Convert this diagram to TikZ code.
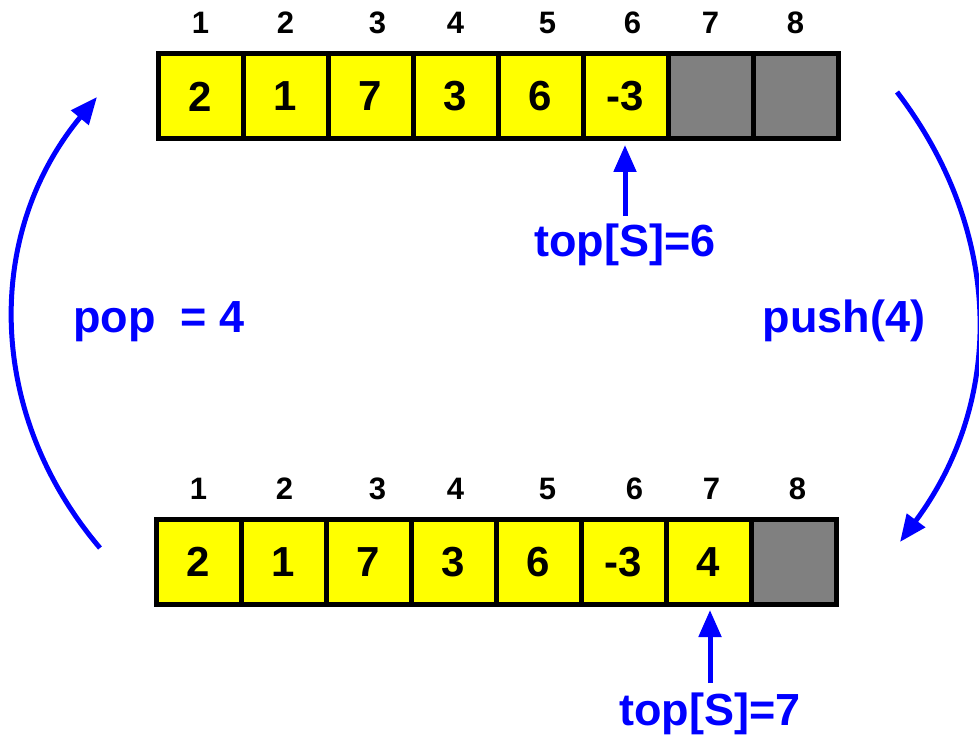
\documentclass[tikz,border=0pt]{standalone}
\usepackage{fontspec}
\setmainfont{Liberation Sans}
\usetikzlibrary{calc,arrows.meta}

\definecolor{cellyellow}{RGB}{255,255,0}
\definecolor{cellgray}{RGB}{128,128,128}
\definecolor{opblue}{RGB}{0,0,255}

\tikzset{
	cell/.style={draw=black, line width=5pt, minimum size=85pt, inner sep=0pt,
		font=\fontsize{42}{42}\selectfont\bfseries},
	usedcell/.style={cell, fill=cellyellow},
	freecell/.style={cell, fill=cellgray},
	idx/.style={font=\fontsize{31}{31}\selectfont\bfseries},
	oplabel/.style={text=opblue, inner sep=0pt, anchor=base,
		font=\fontsize{45}{45}\selectfont\bfseries},
	oparrow/.style={draw=opblue, line width=5pt, -{Triangle[length=27pt,width=22pt]}},
}

\begin{document}
\begin{tikzpicture}[x=1pt,y=1pt]
\useasboundingbox (0,0) rectangle (979,734);
% stack before push
\foreach \i/\v in {1/2,2/1,3/7,4/3,5/6,6/-3} {
	\node[usedcell] (a\i) at ({115.5+85*\i},637.5) {\v};
}
\foreach \i in {7,8} {
	\node[freecell] (a\i) at ({115.5+85*\i},637.5) {};
}
\foreach \i/\d in {1/0,2/0,3/7,4/0,5/7,6/7,7/0,8/0} {
	\node[idx] (na\i) at ({115.5+85*\i+\d},711.5) {\i};
}
% stack after push
\foreach \i/\v in {1/2,2/1,3/7,4/3,5/6,6/-3,7/4} {
	\node[usedcell] (b\i) at ({113.5+85*\i},172) {\v};
}
\node[freecell] (b8) at ({113.5+85*8},172) {};
\foreach \i/\d in {1/0,2/1,3/9,4/2,5/9,6/11,7/3,8/4} {
	\node[idx] (nb\i) at ({113.5+85*\i+\d},245) {\i};
}
% top pointers
\node[oplabel] (ta) at (625,477) {top[S]=6};
\draw[oparrow, shorten <=8pt, shorten >=3.5pt] (ta.north) -- (ta.north |- a6.south);
\node[oplabel] (tb) at (710,9) {top[S]=7};
\draw[oparrow, shorten <=9pt, shorten >=3pt] (tb.north) -- (tb.north |- b7.south);
% operations
\node[oplabel] (pop) at (159,401) {pop~ = 4};
\node[oplabel] (push) at (844,401) {push(4)};
\coordinate (popfrom) at (100,186);
\coordinate (popto) at (97,637);
\draw[oparrow] (popfrom) to[bend left=40] (popto);
\coordinate (pushfrom) at (897,642);
\coordinate (pushto) at (900,192);
\draw[oparrow] (pushfrom) to[bend left=37] (pushto);
\end{tikzpicture}
\end{document}
